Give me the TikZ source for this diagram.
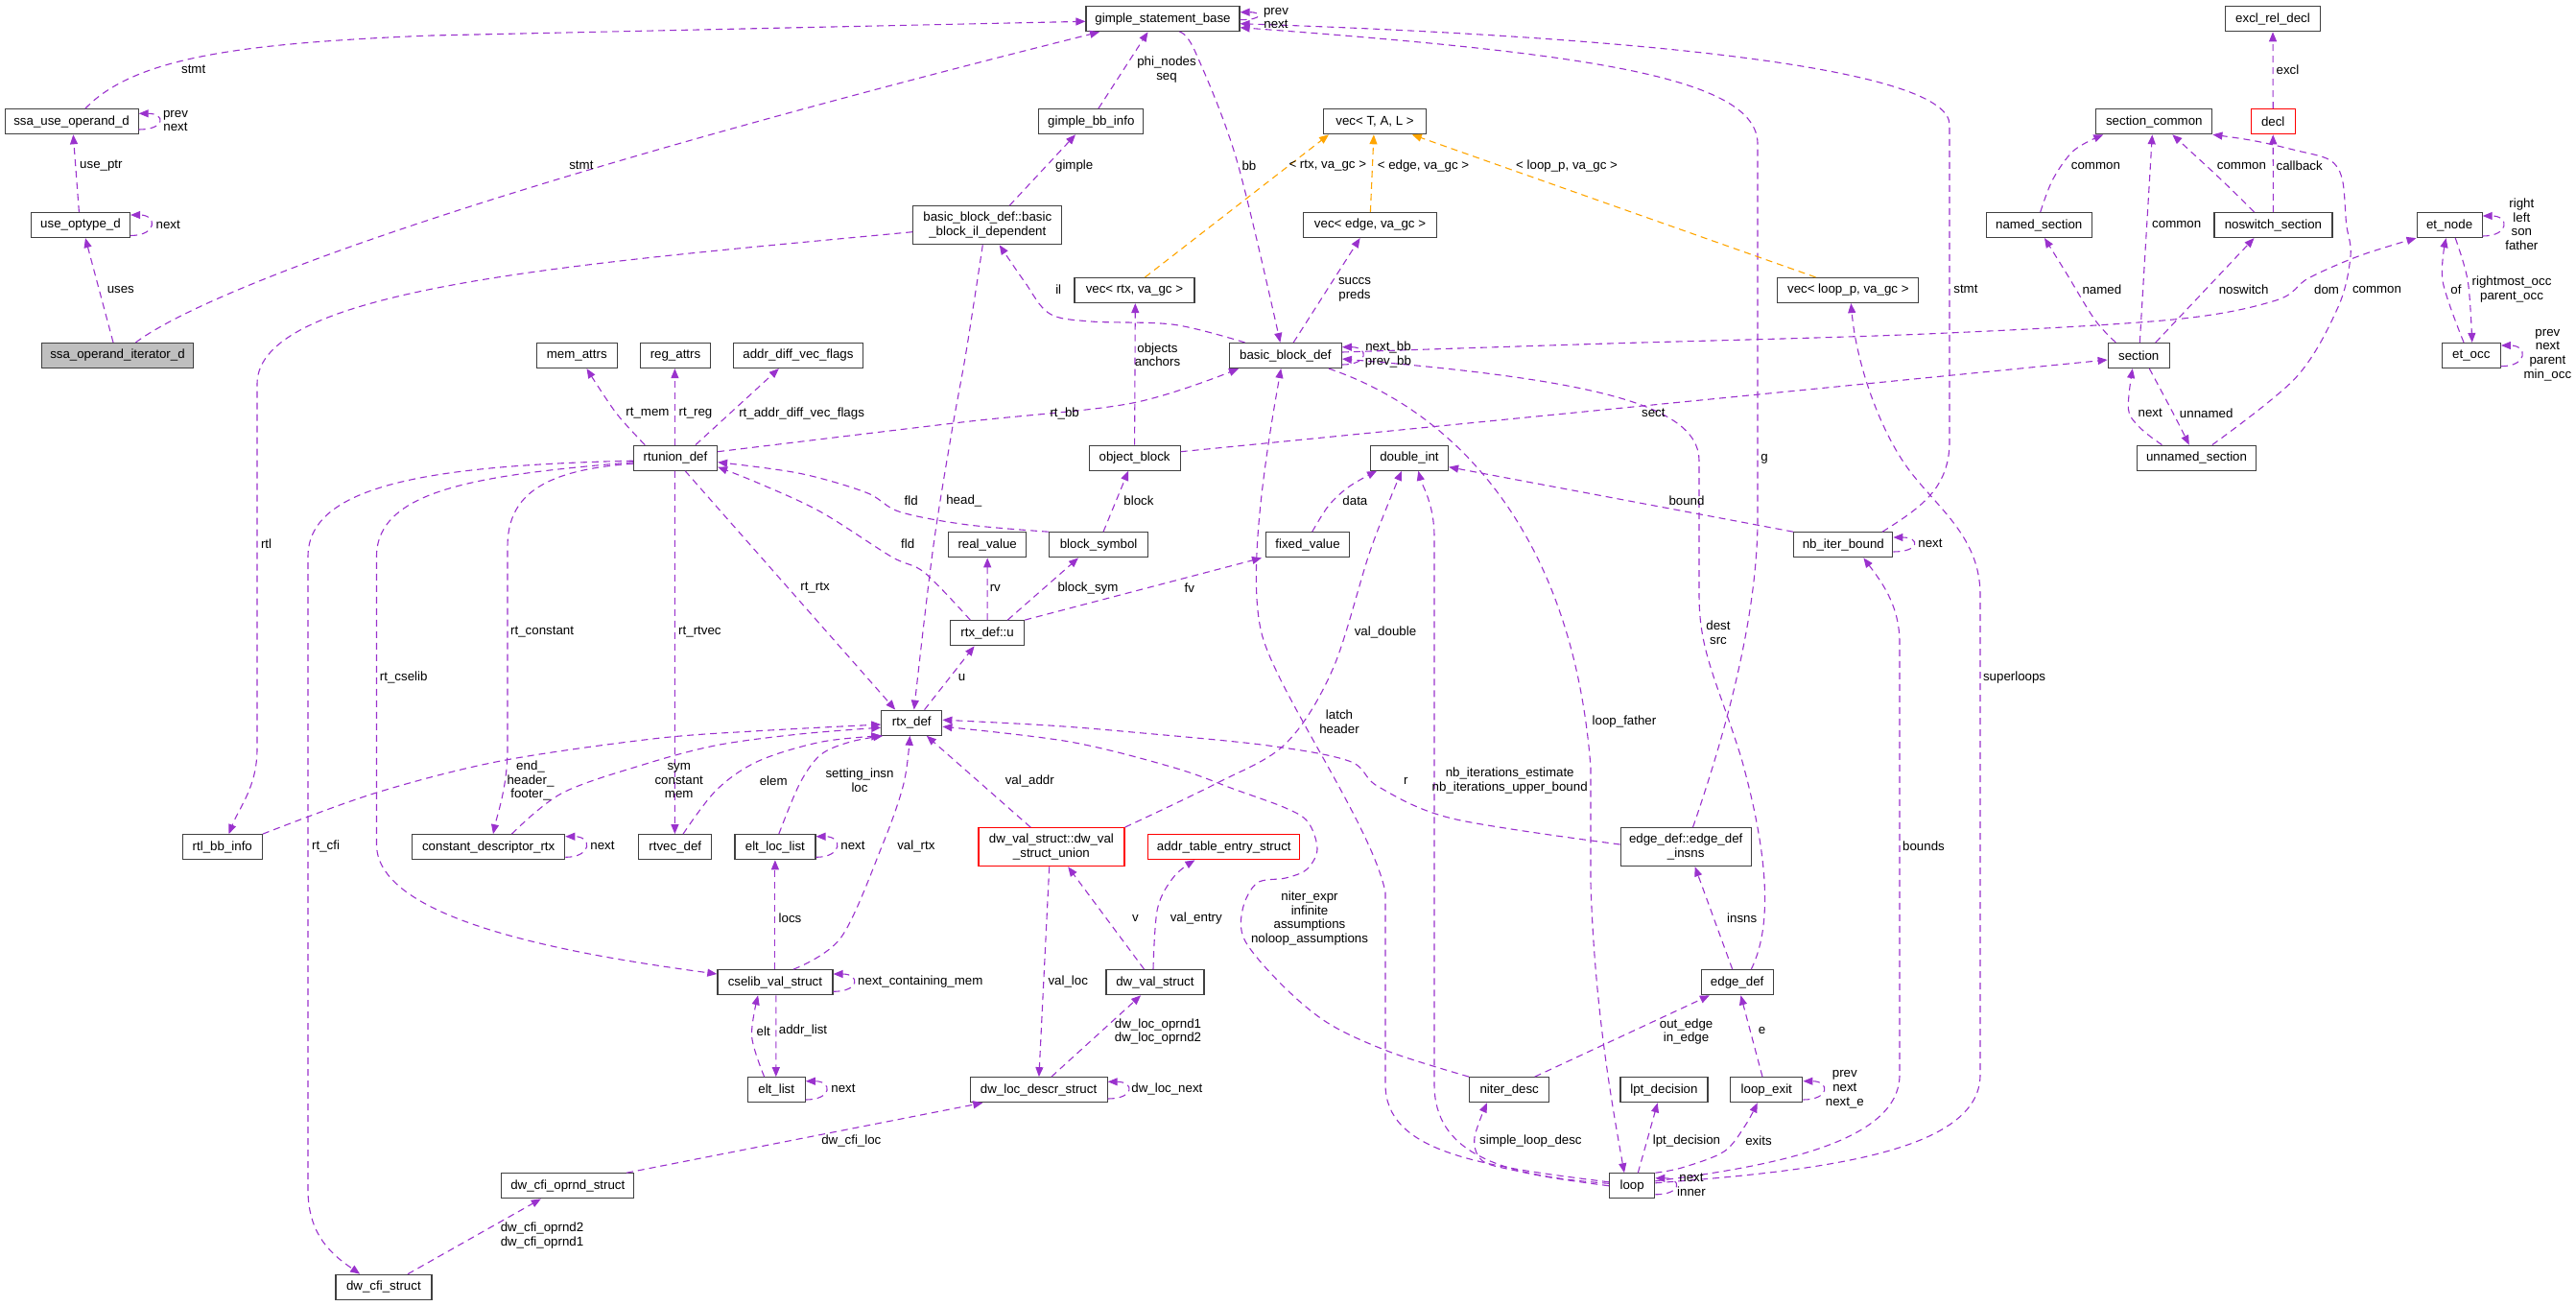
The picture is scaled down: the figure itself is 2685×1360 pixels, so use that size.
\documentclass[tikz,border=0pt]{standalone}
\usepackage{fontspec}
\setmainfont{Liberation Sans}
\usetikzlibrary{arrows.meta}
\definecolor{relcol}{HTML}{9A32CD}
\definecolor{tplcol}{HTML}{FFA500}
\definecolor{framecol}{HTML}{404040}

\begin{document}
\begin{tikzpicture}[
  x=1pt, y=-1pt,
  font=\fontsize{13.3}{14.6}\selectfont,
  cls/.style={draw=framecol, line width=1.2pt, fill=white, minimum height=26pt,
              inner xsep=4pt, inner ysep=1pt},
  two/.style={cls, minimum height=40pt, align=center},
  main/.style={cls, fill=black!25},
  trunc/.style={draw=red},
  lbl/.style={inner sep=0pt, align=center},
  rel/.style={draw=relcol, line width=1.1pt, dash pattern=on 7pt off 5pt,
              -{Triangle[length=10pt, width=8pt]}},
  tmpl/.style={rel, draw=tplcol},
  sm/.style={smooth, tension=0.55}
]
\useasboundingbox (0,0) rectangle (2685,1360);

% classes
\node[main, minimum width=158pt] (iter)   at (122.5,370.5) {ssa\_operand\_iterator\_d};
\node[cls, minimum width=139pt]  (ssause) at (74.6,126.7)  {ssa\_use\_operand\_d};
\node[cls, minimum width=103pt]  (useopt) at (84,234.5)    {use\_optype\_d};
\node[cls, minimum width=84pt]   (memat)  at (601.3,370.5) {mem\_attrs};
\node[cls, minimum width=160pt]  (gsb)    at (1212,19.7)   {gimple\_statement\_base};
\node[cls, minimum width=109pt]  (gbbi)   at (1137.3,126.7) {gimple\_bb\_info};
\node[two, minimum width=155pt]  (bbil)   at (1029.3,234.7) {basic\_block\_def::basic\\\_block\_il\_dependent};
\node[cls, minimum width=125pt]  (vrtx)   at (1182.4,302.5) {vec< rtx, va\_gc >};
\node[cls, minimum width=73pt]   (regat)  at (704,370.5)   {reg\_attrs};
\node[cls, minimum width=135pt]  (advf)   at (832,370.5)   {addr\_diff\_vec\_flags};
\node[cls, minimum width=117pt]  (bbd)    at (1339.8,370.5) {basic\_block\_def};
\node[cls, minimum width=107pt]  (vtal)   at (1433,126.7)  {vec< T, A, L >};
\node[cls, minimum width=139pt]  (vedge)  at (1428,234.5)  {vec< edge, va\_gc >};
\node[cls, minimum width=147pt]  (vloop)  at (1926.3,302.5) {vec< loop\_p, va\_gc >};
\node[cls, minimum width=99pt]   (excl)   at (2369,19.7)   {excl\_rel\_decl};
\node[cls, minimum width=121pt]  (scom)   at (2245.3,126.7) {section\_common};
\node[cls, trunc, minimum width=46pt] (decl) at (2369.2,126.7) {decl};
\node[cls, minimum width=110pt]  (nsec)   at (2125.2,234.5) {named\_section};
\node[cls, minimum width=123pt]  (nosw)   at (2369.4,234.5) {noswitch\_section};
\node[cls, minimum width=68pt]   (etn)    at (2553.1,234.5) {et\_node};
\node[cls, minimum width=64pt]   (sec)    at (2229.2,370.5) {section};
\node[cls, minimum width=61pt]   (eto)    at (2575.8,370.5) {et\_occ};
\node[cls, minimum width=87pt]   (rtu)    at (704,477.2)   {rtunion\_def};
\node[cls, minimum width=83pt]   (rtlbb)  at (231.8,882.7) {rtl\_bb\_info};
\node[cls, minimum width=159pt]  (cdr)    at (509.2,882.7) {constant\_descriptor\_rtx};
\node[cls, minimum width=95pt]   (objb)   at (1182.6,477.2) {object\_block};
\node[cls, minimum width=81pt]   (realv)  at (1029.2,567.8) {real\_value};
\node[cls, minimum width=103pt]  (bsym)   at (1145.1,567.8) {block\_symbol};
\node[cls, minimum width=87pt]   (fixv)   at (1363,567.8)  {fixed\_value};
\node[cls, minimum width=77pt]   (rtxu)   at (1029.1,659.7) {rtx\_def::u};
\node[cls, minimum width=63pt]   (rtx)    at (950.3,753.2) {rtx\_def};
\node[cls, minimum width=76pt]   (rtvec)  at (703.8,882.7) {rtvec\_def};
\node[cls, minimum width=84pt]   (ell)    at (807.9,882.7) {elt\_loc\_list};
\node[two, trunc, minimum width=152pt] (dwu) at (1095.9,882.7) {dw\_val\_struct::dw\_val\\\_struct\_union};
\node[cls, trunc, minimum width=158pt] (ates) at (1275.8,882.7) {addr\_table\_entry\_struct};
\node[cls, minimum width=81pt]   (dint)   at (1469,477.2)  {double\_int};
\node[cls, minimum width=103pt]  (nbib)   at (1921.3,567.8) {nb\_iter\_bound};
\node[two, minimum width=136pt]  (edins)  at (1757.2,882.7) {edge\_def::edge\_def\\\_insns};
\node[cls, minimum width=124pt]  (unsec)  at (2289.5,477.2) {unnamed\_section};
\node[cls, minimum width=138pt]  (cfiop)  at (591.8,1235.8) {dw\_cfi\_oprnd\_struct};
\node[cls, minimum width=100pt]  (cfi)    at (399.9,1341.3) {dw\_cfi\_struct};
\node[cls, minimum width=120pt]  (csv)    at (807.9,1023.7) {cselib\_val\_struct};
\node[cls, minimum width=102pt]  (dwv)    at (1203.9,1023.7) {dw\_val\_struct};
\node[cls, minimum width=60pt]   (elist)  at (809.2,1135.7) {elt\_list};
\node[cls, minimum width=143pt]  (dwl)    at (1082.6,1135.7) {dw\_loc\_descr\_struct};
\node[cls, minimum width=75pt]   (edef)   at (1810.7,1023.7) {edge\_def};
\node[cls, minimum width=83pt]   (niter)  at (1573.2,1135.7) {niter\_desc};
\node[cls, minimum width=91pt]   (lpt)    at (1734.4,1135.7) {lpt\_decision};
\node[cls, minimum width=75pt]   (lexit)  at (1841.3,1135.7) {loop\_exit};
\node[cls, minimum width=47pt]   (lp)     at (1701.2,1235.8) {loop};

% members, left part
\draw[rel] ([xshift=-4.5pt]iter.north) -- ([xshift=5pt]useopt.south);
\draw[rel] ([xshift=19pt]iter.north) .. controls (190,320) and (400,220) .. ([xshift=-66pt]gsb.south);
\draw[rel] ([xshift=-1.6pt]useopt.north) -- ([xshift=1.7pt]ssause.south);
\draw[rel] ([yshift=-11pt]useopt.east) .. controls +(28,0) and +(28,0) .. ([yshift=10.5pt]useopt.east);
\draw[rel] ([yshift=-8.3pt]ssause.east) .. controls +(28,0) and +(28,0) .. ([yshift=8.4pt]ssause.east);
\draw[rel] ([xshift=14.3pt]ssause.north) .. controls (140,60) and (250,45) .. (450,37) -- ([yshift=-2.6pt]gsb.west);
\draw[rel] ([yshift=-1pt]gsb.east) .. controls +(24,0) and +(24,0) .. ([yshift=7pt]gsb.east);
\draw[rel] ([xshift=40.7pt]nbib.north) .. controls (2000,530) and (2032,510) .. (2032,460)
  -- (2032,130) .. controls (2032,75) and (1750,40) .. ([yshift=-5pt]gsb.east);
\draw[rel] ([xshift=7.3pt]edins.north) .. controls (1800,760) and (1832,640) .. (1832,540)
  -- (1832,150) .. controls (1832,80) and (1650,55) .. ([yshift=-9pt]gsb.east);
\draw[rel] ([xshift=7.6pt]gbbi.north) -- ([xshift=-15.5pt]gsb.south);
\draw[rel] ([xshift=23pt]bbil.north) -- ([xshift=-16.3pt]gbbi.south);
\draw[rel, sm] plot coordinates {([xshift=17.4pt]gsb.south) (1245.5,53.3) (1289,166.7) ([xshift=-5.4pt]bbd.north)};
\draw[rel, sm] plot coordinates {([xshift=-42.3pt]bbd.north) (1223.8,338.3) (1137,335) (1093.7,326.7) (1067.7,293.3) ([xshift=12.4pt]bbil.south)};
\draw[tmpl] ([xshift=11.1pt]vrtx.north) -- ([xshift=-48pt]vtal.south);
\draw[tmpl] ([xshift=0.4pt]vedge.north) -- ([xshift=-1.1pt]vtal.south);
\draw[tmpl] ([xshift=-33.8pt]vloop.north) -- ([xshift=38.8pt]vtal.south);
\draw[rel] ([xshift=8.4pt]bbd.north) -- ([xshift=-10.4pt]vedge.south);
\draw[rel] ([yshift=-9.5pt]bbd.east) .. controls +(28,0) and +(28,0) .. ([yshift=8.8pt]bbd.east);
\draw[rel] (objb.north) -- ([xshift=0.9pt]vrtx.south);

% rtunion_def and rtx_def
\draw[rel, sm] plot coordinates {([yshift=6.5pt]rtu.east) (1002.6,440) (1180.4,420) ([xshift=-48.8pt]bbd.south)};
\draw[rel, sm] plot coordinates {([xshift=-31.8pt]rtu.north) (641.9,430) ([xshift=10.2pt]memat.south)};
\draw[rel] ([xshift=-0.6pt]rtu.north) -- ([xshift=-0.6pt]regat.south);
\draw[rel] ([xshift=21pt]rtu.north) -- ([xshift=-20.2pt]advf.south);
\draw[rel] ([yshift=-7pt]bbil.west) .. controls (600,275) and (268,300) .. (268,400)
  -- (268,780) .. controls (268,820) and (250,840) .. ([xshift=6.7pt]rtlbb.north);
\draw[rel, sm] plot coordinates {([xshift=-5pt]bbil.south) (1007,366.7) (992,450) (972.3,573.3) ([xshift=2.4pt]rtx.north)};
\draw[rel] ([xshift=10.2pt]rtu.south) -- ([xshift=-17.1pt]rtx.north);
\draw[rel, sm] plot coordinates {([xshift=-17.8pt]rtxu.north) (963.6,596.7) (928.9,580) (855.2,533.3) (790.1,503.3) ([yshift=-9.5pt]rtu.east)};
\draw[rel, sm] plot coordinates {(bsym.north west) (1007,546.7) (937.6,533.3) (902.9,513.3) (833.5,493.3) ([yshift=-4.5pt]rtu.east)};
\draw[rel] (rtxu.north) -- (realv.south);
\draw[rel] ([xshift=21.2pt]rtxu.north) -- ([xshift=-21.1pt]bsym.south);
\draw[rel] (rtxu.north east) -- ([xshift=-48pt]fixv.south);
\draw[rel] ([xshift=4.9pt]bsym.north) -- ([xshift=-6.5pt]objb.south);
\draw[rel] ([yshift=6.5pt]objb.east) -- ([yshift=-4.5pt]sec.west);
\draw[rel] ([xshift=13.3pt]rtx.north) -- ([xshift=-13.5pt]rtxu.south);
\draw[rel, sm] plot coordinates {([xshift=4.7pt]fixv.north) (1385,526.7) (1406.7,506.7) ([xshift=-34pt]dint.south)};
\draw[rel] (nbib.north west) -- ([yshift=-9.5pt]dint.east);
\draw[rel] ([yshift=-7.2pt]nbib.east) .. controls +(28,0) and +(28,0) .. ([yshift=7.8pt]nbib.east);
\draw[rel, sm] plot coordinates {(dwu.north east) (1267.2,816.7) (1340,775) (1389.4,696.7) (1428.4,573.3) ([xshift=-8pt]dint.south)};
\draw[rel] ([yshift=2.5pt]lp.west) .. controls (1560,1225) and (1495,1200) .. (1495,1130)
  -- (1495,560) .. controls (1495,525) and (1482,505) .. ([xshift=9.3pt]dint.south);
\draw[rel] ([yshift=4pt]lp.west) .. controls (1540,1215) and (1444,1200) .. (1444,1130)
  -- (1444,930) .. controls (1430,860) and (1330,720) .. (1315,660)
  .. controls (1300,600) and (1318,480) .. ([xshift=-4.6pt]bbd.south);
\draw[rel] ([xshift=45.2pt]bbd.south) .. controls (1520,430) and (1640,560) .. (1658,800)
  -- (1658,920) .. controls (1662,1050) and (1680,1150) .. ([xshift=-8.2pt]lp.north);
\draw[rel, sm] plot coordinates {([yshift=3.5pt]bbd.east) (1667,358.3) (2000,348.3) (2262,333.3) (2371.4,313.3) (2406,290) (2459,266.7) (etn.south west)};
\draw[rel] ([xshift=14.6pt]edef.north) .. controls (1850,960) and (1840,880) .. (1815,790)
  .. controls (1790,710) and (1771,680) .. (1771,620) -- (1771,480)
  .. controls (1771,420) and (1650,395) .. ([yshift=-3.5pt]bbd.east);
\draw[rel] ([xshift=-5pt]edef.north) -- ([xshift=9.5pt]edins.south);
\draw[rel] ([xshift=-4.3pt]lexit.north) -- ([xshift=3.7pt]edef.south);
\draw[rel] ([xshift=26.5pt]niter.north) -- ([xshift=-28.8pt]edef.south);
\draw[rel, sm] plot coordinates {([yshift=2.7pt]edins.west) (1515,853.3) (1437,820) (1406.7,793.3) (1320,776.7) (1180.4,763) (1093.7,756) ([yshift=3pt]rtx.east)};
\draw[rel, sm] plot coordinates {(niter.north west) (1450,1096.7) (1385,1066.7) (1336.6,1026.7) (1297.5,980) (1295.4,946.7) (1310.5,920) (1340,915) (1362,906) (1373,885) (1363.4,856.7) (1340,842) (1288,823) (1223.8,800) (1115,773) ([yshift=-4pt]rtx.east)};
\draw[rel] ([xshift=-21.7pt]dwu.north) -- ([xshift=15.5pt]rtx.south);
\draw[rel, sm] plot coordinates {([xshift=8.2pt]rtvec.north) (746.7,823.3) (790.1,793.3) (855.2,773.3) (rtx.south west)};
\draw[rel, sm] plot coordinates {([xshift=3.9pt]ell.north) (833.5,816.7) (855.2,786.7) (885.5,773.3) ([xshift=2pt]rtx.south west)};
\draw[rel, sm] plot coordinates {([xshift=19.1pt]csv.north) (876.8,976.7) (920,880) (941.9,816.7) ([xshift=-1.9pt]rtx.south)};
\draw[rel, sm] plot coordinates {(rtlbb.north east) (390.3,826.7) (520.4,793.3) (680,770) (790,761.7) ([yshift=-1.8pt]rtx.west)};
\draw[rel, sm] plot coordinates {([xshift=24.2pt]cdr.north) (585.5,826.7) (670,797) (746.7,776.7) (833.5,765) ([yshift=-5pt]rtx.west)};
\draw[rel] ([yshift=-6pt]rtu.west) .. controls (560,490) and (529,520) .. (529,570)
  -- (529,780) .. controls (529,820) and (518,850) .. ([xshift=4.8pt]cdr.north);
\draw[rel] ([yshift=-4.5pt]rtu.west) .. controls (500,495) and (392.5,510) .. (392.5,580)
  -- (392.5,880) .. controls (392.5,960) and (600,995) .. ([yshift=8.7pt]csv.west);
\draw[rel] ([yshift=-3pt]rtu.west) .. controls (450,485) and (321,505) .. (321,580)
  -- (321,1240) .. controls (321,1290) and (350,1310) .. ([xshift=-24.7pt]cfi.north);
\draw[rel] ([xshift=-0.6pt]rtu.south) -- ([xshift=-0.4pt]rtvec.north);
\draw[rel] ([yshift=-10.6pt]cdr.east) .. controls +(28,0) and +(28,0) .. ([yshift=11pt]cdr.east);
\draw[rel] ([yshift=-10.6pt]ell.east) .. controls +(28,0) and +(28,0) .. ([yshift=11pt]ell.east);

% cselib and dwarf structs
\draw[rel] (csv.north) -- (ell.south);
\draw[rel] ([yshift=-9.6pt]csv.east) .. controls +(28,0) and +(28,0) .. ([yshift=8.7pt]csv.east);
\draw[rel, sm] plot coordinates {([xshift=-12.6pt]elist.north) (783.6,1080) ([xshift=-17.8pt]csv.south)};
\draw[rel] ([xshift=0.9pt]csv.south) -- ([xshift=-0.4pt]elist.north);
\draw[rel] ([yshift=-10.3pt]elist.east) .. controls +(28,0) and +(28,0) .. ([yshift=9pt]elist.east);
\draw[rel] ([xshift=-11.3pt]dwv.north) -- ([xshift=17.3pt]dwu.south);
\draw[rel, sm] plot coordinates {([xshift=-1.9pt]dwv.north) (1206.5,946.7) (1223.8,913.3) ([xshift=-30.3pt]ates.south)};
\draw[rel] ([xshift=-2.2pt]dwu.south) -- ([xshift=0.3pt]dwl.north);
\draw[rel] ([xshift=13.3pt]dwl.north) -- ([xshift=-14.8pt]dwv.south);
\draw[rel] ([yshift=-9.3pt]dwl.east) .. controls +(28,0) and +(28,0) .. ([yshift=8.4pt]dwl.east);
\draw[rel] ([xshift=-8.4pt]cfiop.north east) -- ([xshift=-58.3pt]dwl.south);
\draw[rel] ([xshift=25.1pt]cfi.north) -- ([xshift=-28pt]cfiop.south);

% loop
\draw[rel, sm] plot coordinates {(lp.west) (1623.6,1228.3) (1580.2,1220) (1545.5,1210) (1536.8,1186.7) ([xshift=-23.3pt]niter.south)};
\draw[rel] ([xshift=6.1pt]lp.north) -- ([xshift=-6.7pt]lpt.south);
\draw[rel, sm] plot coordinates {(lp.north east) (1753.7,1216.7) (1797,1200) (1818.8,1173.3) ([xshift=-9.5pt]lexit.south)};
\draw[rel] ([yshift=-10.3pt]lexit.east) .. controls +(28,0) and +(28,0) .. ([yshift=9pt]lexit.east);
\draw[rel] ([yshift=-9pt]lp.east) .. controls +(28,0) and +(28,0) .. ([yshift=8pt]lp.east);
\draw[rel] ([yshift=5pt]lp.east) .. controls (1850,1215) and (1980,1190) .. (1980,1120)
  -- (1980,670) .. controls (1980,630) and (1960,605) .. ([xshift=21.1pt]nbib.south);
\draw[rel] ([yshift=3pt]lp.east) .. controls (1900,1220) and (2064,1200) .. (2064,1120)
  -- (2064,620) .. controls (2064,560) and (2020,530) .. (1990,490)
  .. controls (1960,450) and (1935,380) .. ([xshift=3pt]vloop.south);

% sections and et
\draw[rel, sm] plot coordinates {([xshift=-23.9pt]sec.north) (2183.5,333.3) (2152.9,283.3) ([xshift=5.8pt]nsec.south)};
\draw[rel] ([xshift=1.1pt]sec.north) -- ([xshift=-2pt]scom.south);
\draw[rel] ([xshift=17.6pt]sec.north) -- ([xshift=-19.9pt]nosw.south);
\draw[rel, sm] plot coordinates {([xshift=1.5pt]nsec.north) (2139.8,186.7) (2161.7,156.7) ([xshift=-53.1pt]scom.south)};
\draw[rel, sm] plot coordinates {([xshift=-19.9pt]nosw.north) (2314.6,186.7) ([xshift=19pt]scom.south)};
\draw[rel] (nosw.north) -- (decl.south);
\draw[rel] (decl.north) -- (excl.south);
\draw[rel, sm] plot coordinates {([xshift=16.3pt]unsec.north) (2393.2,393.3) (2437,320) (2450,266.7) (2445.6,233.3) (2441.3,186.7) (2428.2,166.7) (2393.2,156.7) (2349.5,146.7) (scom.south east)};
\draw[rel, sm] plot coordinates {([xshift=11.1pt]sec.south) (2266.5,433.3) ([xshift=-7.7pt]unsec.north)};
\draw[rel, sm] plot coordinates {([xshift=-36.1pt]unsec.north) (2231.6,446.7) (2218.5,426.7) ([xshift=-6.4pt]sec.south)};
\draw[rel, sm] plot coordinates {([xshift=-7.8pt]eto.north) (2546.1,293.3) ([xshift=-3.5pt]etn.south)};
\draw[rel, sm] plot coordinates {([xshift=6.1pt]etn.south) (2572.3,293.3) ([xshift=0.9pt]eto.north)};
\draw[rel] ([yshift=-11.5pt]etn.east) .. controls +(28,0) and +(28,0) .. ([yshift=9.5pt]etn.east);
\draw[rel] ([yshift=-11.2pt]eto.east) .. controls +(28,0) and +(28,0) .. ([yshift=10.5pt]eto.east);

% edge labels
\node[lbl] (t01) at (201.7,72.7) {stmt};
\node[lbl] (t02) at (183,126) {prev\\next};
\node[lbl] (t03) at (175.2,234) {next};
\node[lbl] (t04) at (105.4,172.7) {use\_ptr};
\node[lbl] (t05) at (125.8,301.7) {uses};
\node[lbl] (t06) at (605.9,172.7) {stmt};
\node[lbl] (t07) at (1330,19) {prev\\next};
\node[lbl] (t08) at (1216,72.5) {phi\_nodes\\seq};
\node[lbl] (t09) at (1119.7,172.7) {gimple};
\node[lbl] (t10) at (1301.9,172.7) {bb};
\node[lbl] (t11) at (1103.2,301.7) {il};
\node[lbl] (t12) at (1206.5,369.7) {objects\\anchors};
\node[lbl] (t13) at (675,430.7) {rt\_mem};
\node[lbl] (t14) at (725,430.7) {rt\_reg};
\node[lbl] (t15) at (835.6,430.7) {rt\_addr\_diff\_vec\_flags};
\node[lbl] (t16) at (1109.7,430.7) {rt\_bb};
\node[lbl] (t17) at (1383.8,172.7) {< rtx, va\_gc >};
\node[lbl] (t18) at (1483.5,172.7) {< edge, va\_gc >};
\node[lbl] (t19) at (1633.1,172.7) {< loop\_p, va\_gc >};
\node[lbl] (t20) at (1412,301.8) {succs\\preds};
\node[lbl] (t21) at (1447,369.7) {next\_bb\\prev\_bb};
\node[lbl] (t22) at (1723.3,430.7) {sect};
\node[lbl] (t23) at (2384.5,72.7) {excl};
\node[lbl] (t24) at (2184.4,172.7) {common};
\node[lbl] (t25) at (2336.4,172.7) {common};
\node[lbl] (t26) at (2396.7,172.7) {callback};
\node[lbl] (t27) at (2268.7,234) {common};
\node[lbl] (t28) at (2628.3,233.7) {right\\left\\son\\father};
\node[lbl] (t29) at (2048.9,301.7) {stmt};
\node[lbl] (t30) at (2190.9,301.7) {named};
\node[lbl] (t31) at (2338.6,301.7) {noswitch};
\node[lbl] (t32) at (2425.1,301.7) {dom};
\node[lbl] (t33) at (2477.5,301.7) {common};
\node[lbl] (t34) at (2560,301.7) {of};
\node[lbl] (t35) at (2618,301.8) {rightmost\_occ\\parent\_occ};
\node[lbl] (t36) at (2655.4,370) {prev\\next\\parent\\min\_occ};
\node[lbl] (t37) at (2241.2,430.7) {next};
\node[lbl] (t38) at (2299.7,430.7) {unnamed};
\node[lbl] (t39) at (277.6,566.7) {rtl};
\node[lbl] (t40) at (565.1,658.7) {rt\_constant};
\node[lbl] (t41) at (420.7,705.7) {rt\_cselib};
\node[lbl] (t42) at (339.6,881.7) {rt\_cfi};
\node[lbl] (t43) at (553,813.7) {end\_\\header\_\\footer\_};
\node[lbl] (t44) at (628,881.7) {next};
\node[lbl] (t45) at (949.7,521.7) {fld};
\node[lbl] (t46) at (1004.8,521.7) {head\_};
\node[lbl] (t47) at (1187,521.7) {block};
\node[lbl] (t48) at (946.2,566.7) {fld};
\node[lbl] (t49) at (849.5,612.7) {rt\_rtx};
\node[lbl] (t50) at (1037.3,612.7) {rv};
\node[lbl] (t51) at (1134,612.7) {block\_sym};
\node[lbl] (t52) at (1239.9,612.7) {fv};
\node[lbl] (t53) at (729.4,658.7) {rt\_rtvec};
\node[lbl] (t54) at (1002.6,705.7) {u};
\node[lbl] (t55) at (707.7,813.7) {sym\\constant\\mem};
\node[lbl] (t56) at (806.2,813.7) {elem};
\node[lbl] (t57) at (896,813.5) {setting\_insn\\loc};
\node[lbl] (t58) at (1073.3,813.7) {val\_addr};
\node[lbl] (t59) at (889,881.7) {next};
\node[lbl] (t60) at (954.9,881.7) {val\_rtx};
\node[lbl] (t61) at (1412.4,521.7) {data};
\node[lbl] (t62) at (1758,521.7) {bound};
\node[lbl] (t63) at (1839.1,478.3) {g};
\node[lbl] (t64) at (1444,658.7) {val\_double};
\node[lbl] (t65) at (1791,659.2) {dest\\src};
\node[lbl] (t66) at (1396,752) {latch\\header};
\node[lbl] (t67) at (1693,752.3) {loop\_father};
\node[lbl] (t68) at (1465.3,813.7) {r};
\node[lbl] (t69) at (1573.7,813.5) {nb\_iterations\_estimate\\nb\_iterations\_upper\_bound};
\node[lbl] (t70) at (2005,881.7) {bounds};
\node[lbl] (t71) at (2012,566.7) {next};
\node[lbl] (t72) at (2099.6,705.7) {superloops};
\node[lbl] (t73) at (565,1287.8) {dw\_cfi\_oprnd2\\dw\_cfi\_oprnd1};
\node[lbl] (t74) at (823.5,956.7) {locs};
\node[lbl] (t75) at (1183.5,956.7) {v};
\node[lbl] (t76) at (1246.8,956.7) {val\_entry};
\node[lbl] (t77) at (959.3,1022.7) {next\_containing\_mem};
\node[lbl] (t78) at (1113.2,1022.7) {val\_loc};
\node[lbl] (t79) at (795.7,1074.3) {elt};
\node[lbl] (t80) at (837,1074.3) {addr\_list};
\node[lbl] (t81) at (1207,1075.2) {dw\_loc\_oprnd1\\dw\_loc\_oprnd2};
\node[lbl] (t82) at (879,1134.7) {next};
\node[lbl] (t83) at (1216.4,1134.7) {dw\_loc\_next};
\node[lbl] (t84) at (887.3,1188.7) {dw\_cfi\_loc};
\node[lbl] (t85) at (1365,957) {niter\_expr\\infinite\\assumptions\\noloop\_assumptions};
\node[lbl] (t86) at (1815.7,956.7) {insns};
\node[lbl] (t87) at (1757.6,1075.2) {out\_edge\\in\_edge};
\node[lbl] (t88) at (1836.5,1074.3) {e};
\node[lbl] (t89) at (1922.8,1135.3) {prev\\next\\next\_e};
\node[lbl] (t90) at (1595.4,1188.7) {simple\_loop\_desc};
\node[lbl] (t91) at (1758,1188.7) {lpt\_decision};
\node[lbl] (t92) at (1833,1188.7) {exits};
\node[lbl] (t93) at (1763,1235) {next\\inner};
\end{tikzpicture}
\end{document}
